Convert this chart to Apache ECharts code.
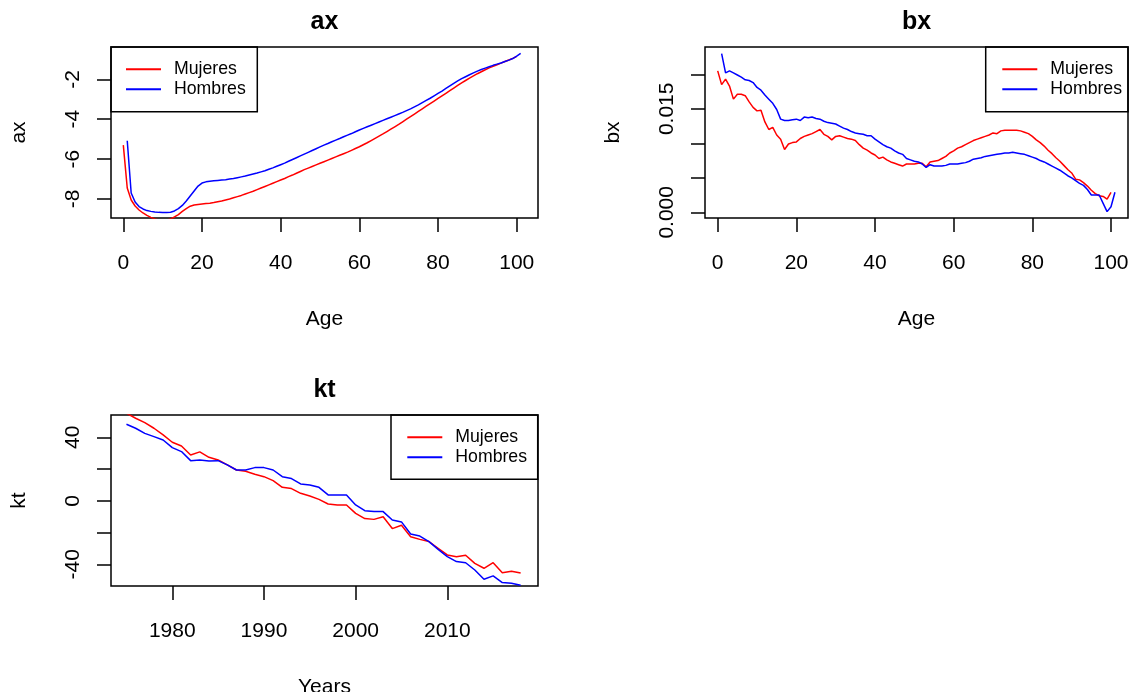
<!DOCTYPE html>
<html>
<head>
<meta charset="utf-8">
<script src="https://cdn.jsdelivr.net/npm/echarts@6/dist/echarts.min.js"></script>
<style>html,body{margin:0;padding:0;background:#fff}#c{width:1133px;height:692px}</style>
</head>
<body>
<div id="c"></div>
<script>
// ---- data ----
const ages = Array.from({length: 101}, (_, i) => i);          // Mujeres plotted at 0..100
const agesH = ages.map(a => a + 1);                            // Hombres plotted at 1..101
const years = Array.from({length: 44}, (_, i) => 1975 + i);   // 1975..2018

const axMujeres = [-5.30,-7.45,-8.05,-8.35,-8.55,-8.70,-8.82,-8.92,-9.00,-9.05,
  -9.08,-9.06,-9.00,-8.90,-8.78,-8.62,-8.48,-8.36,-8.30,-8.27,
  -8.25,-8.23,-8.21,-8.18,-8.14,-8.10,-8.05,-8.00,-7.94,-7.88,
  -7.82,-7.75,-7.68,-7.61,-7.53,-7.45,-7.37,-7.29,-7.21,-7.13,
  -7.05,-6.97,-6.88,-6.80,-6.71,-6.62,-6.53,-6.45,-6.37,-6.29,
  -6.21,-6.13,-6.05,-5.97,-5.89,-5.81,-5.73,-5.65,-5.56,-5.47,
  -5.38,-5.28,-5.18,-5.07,-4.96,-4.85,-4.74,-4.62,-4.50,-4.38,
  -4.26,-4.13,-4.00,-3.87,-3.74,-3.61,-3.48,-3.35,-3.22,-3.09,
  -2.96,-2.83,-2.70,-2.57,-2.44,-2.31,-2.18,-2.06,-1.94,-1.83,
  -1.72,-1.62,-1.52,-1.43,-1.35,-1.27,-1.19,-1.11,-1.03,-0.95,-0.85];
const axHombres = [-5.08,-7.70,-8.15,-8.38,-8.50,-8.58,-8.62,-8.65,-8.67,-8.68,
  -8.68,-8.66,-8.60,-8.48,-8.32,-8.10,-7.85,-7.60,-7.35,-7.20,
  -7.14,-7.11,-7.09,-7.07,-7.05,-7.03,-7.00,-6.97,-6.93,-6.89,
  -6.85,-6.80,-6.75,-6.70,-6.64,-6.58,-6.51,-6.44,-6.36,-6.28,
  -6.20,-6.11,-6.02,-5.93,-5.84,-5.75,-5.66,-5.57,-5.48,-5.39,
  -5.30,-5.22,-5.13,-5.05,-4.97,-4.88,-4.80,-4.72,-4.63,-4.54,
  -4.46,-4.38,-4.30,-4.22,-4.14,-4.06,-3.98,-3.90,-3.82,-3.74,
  -3.66,-3.57,-3.48,-3.38,-3.28,-3.17,-3.06,-2.95,-2.83,-2.71,
  -2.59,-2.46,-2.33,-2.20,-2.08,-1.97,-1.87,-1.77,-1.68,-1.59,
  -1.51,-1.44,-1.37,-1.30,-1.24,-1.18,-1.11,-1.04,-0.96,-0.84,-0.70];

// bx in thousandths
const bxMujeres = [20.5,18.5,19.3,18.3,16.4,17.1,17.1,16.9,16.0,15.2,
  14.7,14.8,13.1,12.0,12.3,11.2,10.6,9.1,9.9,10.1,
  10.2,10.7,11.0,11.2,11.4,11.7,12.0,11.3,11.0,10.5,
  11.0,11.1,10.9,10.7,10.6,10.4,9.8,9.3,9.0,8.6,
  8.3,7.8,8.0,7.6,7.3,7.1,6.9,6.7,7.0,7.0,
  7.0,7.1,7.1,6.6,7.3,7.4,7.5,7.8,8.1,8.6,
  8.9,9.3,9.5,9.8,10.1,10.4,10.6,10.8,11.0,11.2,
  11.5,11.4,11.8,11.9,11.9,11.9,11.9,11.8,11.6,11.4,
  11.0,10.5,10.1,9.6,9.0,8.5,7.9,7.4,6.8,6.2,
  5.7,4.8,4.7,4.3,3.8,3.2,2.7,2.4,2.3,1.9,2.9];
const bxHombres = [23.0,20.2,20.5,20.2,19.9,19.6,19.2,19.1,18.8,18.1,
  17.7,17.0,16.4,15.8,14.9,13.5,13.3,13.3,13.4,13.5,
  13.3,13.8,13.7,13.8,13.6,13.5,13.2,13.0,12.9,12.8,
  12.5,12.2,12.0,11.7,11.5,11.4,11.3,11.1,11.1,10.6,
  10.2,9.8,9.5,9.3,8.9,8.6,8.4,7.8,7.6,7.4,
  7.3,7.0,6.5,6.9,6.7,6.7,6.7,6.8,7.0,7.0,
  7.0,7.1,7.2,7.4,7.7,7.8,7.9,8.1,8.2,8.3,
  8.4,8.5,8.6,8.6,8.7,8.6,8.5,8.4,8.2,8.0,
  7.8,7.5,7.3,7.0,6.7,6.4,6.1,5.7,5.3,5.0,
  4.6,4.2,3.9,3.3,2.5,2.5,2.5,1.3,0.1,0.8,2.9];

const ktMujeres = [55.2,52.0,49.2,45.7,41.5,36.9,34.5,28.9,30.8,27.4,
  25.7,22.6,19.4,18.6,16.7,15.2,12.7,8.5,7.7,4.7,
  3.0,0.9,-2.0,-2.6,-2.6,-7.9,-11.2,-11.7,-10.0,-17.5,
  -15.4,-22.6,-24.3,-25.7,-29.9,-34.1,-35.2,-34.3,-39.4,-42.5,
  -39.0,-45.3,-44.4,-45.5];
const ktHombres = [48.2,45.7,42.5,40.4,38.3,33.5,31.0,25.3,25.7,25.1,
  25.3,22.6,19.4,19.4,20.9,20.9,19.4,15.2,14.0,10.6,
  10.0,8.5,3.7,3.7,3.7,-2.6,-6.2,-6.8,-6.8,-12.1,
  -13.3,-20.9,-22.2,-25.7,-30.6,-35.2,-38.3,-39.0,-43.6,-49.4,
  -47.3,-51.5,-52.0,-53.2];

// tick values and labels
const ageTicks = [0, 20, 40, 60, 80, 100];
const axYTicks = [-8, -6, -4, -2];
const axYLabels = [-8, -6, -4, -2];
const bxYTicks = [0, 0.005, 0.010, 0.015, 0.020];
const bxYLabels = [0, 0.015];
const yearTicks = [1980, 1990, 2000, 2010];
const ktYTicks = [-40, -20, 0, 20, 40];
const ktYLabels = [-40, 0, 40];
const panelTitles = ['ax', 'bx', 'kt'];
const seriesNames = ['Mujeres', 'Hombres'];

// ---- chart ----
const FONT = "'Liberation Sans', Arial, Helvetica, sans-serif";
const RED = '#FF0000', BLUE = '#0000FF';
const chart = echarts.init(document.getElementById('c'), null, {renderer: 'canvas'});

const grids = [
  {left: 111, top: 47, width: 427, height: 171},
  {left: 705, top: 47, width: 423, height: 171},
  {left: 111, top: 415, width: 427, height: 171}
].map(g => Object.assign({show: true, borderColor: '#000', borderWidth: 1.5, backgroundColor: 'transparent',
  containLabel: false, outerBoundsMode: 'none'}, g));

function xAx(idx, min, max, ticks, name) {
  return {
    type: 'value', gridIndex: idx, min, max, position: 'bottom',
    name, nameLocation: 'middle', nameGap: 91,
    nameTextStyle: {fontFamily: FONT, fontSize: 21, color: '#000'},
    axisLine: {show: false, onZero: false},
    axisTick: {show: true, inside: false, length: 14, customValues: ticks, lineStyle: {color: '#000', width: 1.5}},
    axisLabel: {show: true, margin: 35, customValues: ticks, fontFamily: FONT, fontSize: 21, color: '#000', formatter: v => String(v)},
    splitLine: {show: false}
  };
}
function yAx(idx, min, max, ticks, labels, name, fmt) {
  return {
    type: 'value', gridIndex: idx, min, max, position: 'left',
    name, nameLocation: 'middle', nameGap: 81,
    nameTextStyle: {fontFamily: FONT, fontSize: 21, color: '#000'},
    axisLine: {show: false, onZero: false},
    axisTick: {show: true, inside: false, length: 14, customValues: ticks, lineStyle: {color: '#000', width: 1.5}},
    axisLabel: {show: true, margin: 27, rotate: 90, customValues: labels, fontFamily: FONT, fontSize: 21, color: '#000', formatter: fmt},
    splitLine: {show: false}
  };
}

const lineSeries = (name, xs, ys, color, xi, scale) => ({
  name, type: 'line', xAxisIndex: xi, yAxisIndex: xi,
  data: xs.map((x, i) => [x, ys[i] * (scale || 1)]),
  symbol: 'none', showSymbol: false, clip: true,
  lineStyle: {color, width: 1.5}, itemStyle: {color},
  animation: false
});

function legendAt(left, top) {
  return {
    data: seriesNames, left, top, orient: 'vertical', padding: 0, itemGap: 0,
    icon: 'rect', itemWidth: 35, itemHeight: 2, selectedMode: false,
    textStyle: {fontFamily: FONT, fontSize: 17.7, color: '#000', lineHeight: 20, padding: [0, 0, 0, 8]}
  };
}

const legendBoxes = [
  {x: 111, y: 47, w: 146.3, h: 64.7},
  {x: 985.7, y: 47, w: 142.3, h: 64.7},
  {x: 391, y: 415, w: 146.7, h: 64.3}
];

const option = {
  animation: false,
  backgroundColor: '#fff',
  grid: grids,
  xAxis: [
    xAx(0, -3.13, 105.41, ageTicks, 'Age'),
    xAx(1, -3.229, 104.32, ageTicks, 'Age'),
    xAx(2, 1973.313, 2019.893, yearTicks, 'Years')
  ],
  yAxis: [
    yAx(0, -8.952, -0.381, axYTicks, axYLabels, 'ax', v => String(v)),
    yAx(1, -0.000826, 0.023957, bxYTicks, bxYLabels, 'bx', v => Number(v).toFixed(3)),
    yAx(2, -53.67, 54.05, ktYTicks, ktYLabels, 'kt', v => String(v))
  ],
  legend: [legendAt(126, 59.3), legendAt(1002.3, 59.3), legendAt(407.3, 427.3)],
  series: [
    lineSeries('Mujeres', ages, axMujeres, RED, 0),
    lineSeries('Hombres', agesH, axHombres, BLUE, 0),
    lineSeries('Mujeres', ages, bxMujeres, RED, 1, 0.001),
    lineSeries('Hombres', agesH, bxHombres, BLUE, 1, 0.001),
    lineSeries('Mujeres', years, ktMujeres, RED, 2),
    lineSeries('Hombres', years, ktHombres, BLUE, 2)
  ],
  graphic: [
    ...legendBoxes.map(b => ({type: 'rect', shape: {x: b.x, y: b.y, width: b.w, height: b.h}, style: {fill: 'none', stroke: '#000', lineWidth: 1.5}, silent: true, z: 100})),
    {type: 'text', x: 324.5, y: 22, style: {text: panelTitles[0], font: "bold 25px " + FONT, fill: '#000', textAlign: 'center', textVerticalAlign: 'middle'}},
    {type: 'text', x: 916.5, y: 22, style: {text: panelTitles[1], font: "bold 25px " + FONT, fill: '#000', textAlign: 'center', textVerticalAlign: 'middle'}},
    {type: 'text', x: 324.5, y: 390.5, style: {text: panelTitles[2], font: "bold 25px " + FONT, fill: '#000', textAlign: 'center', textVerticalAlign: 'middle'}}
  ]
};
chart.setOption(option);
</script>
</body>
</html>
